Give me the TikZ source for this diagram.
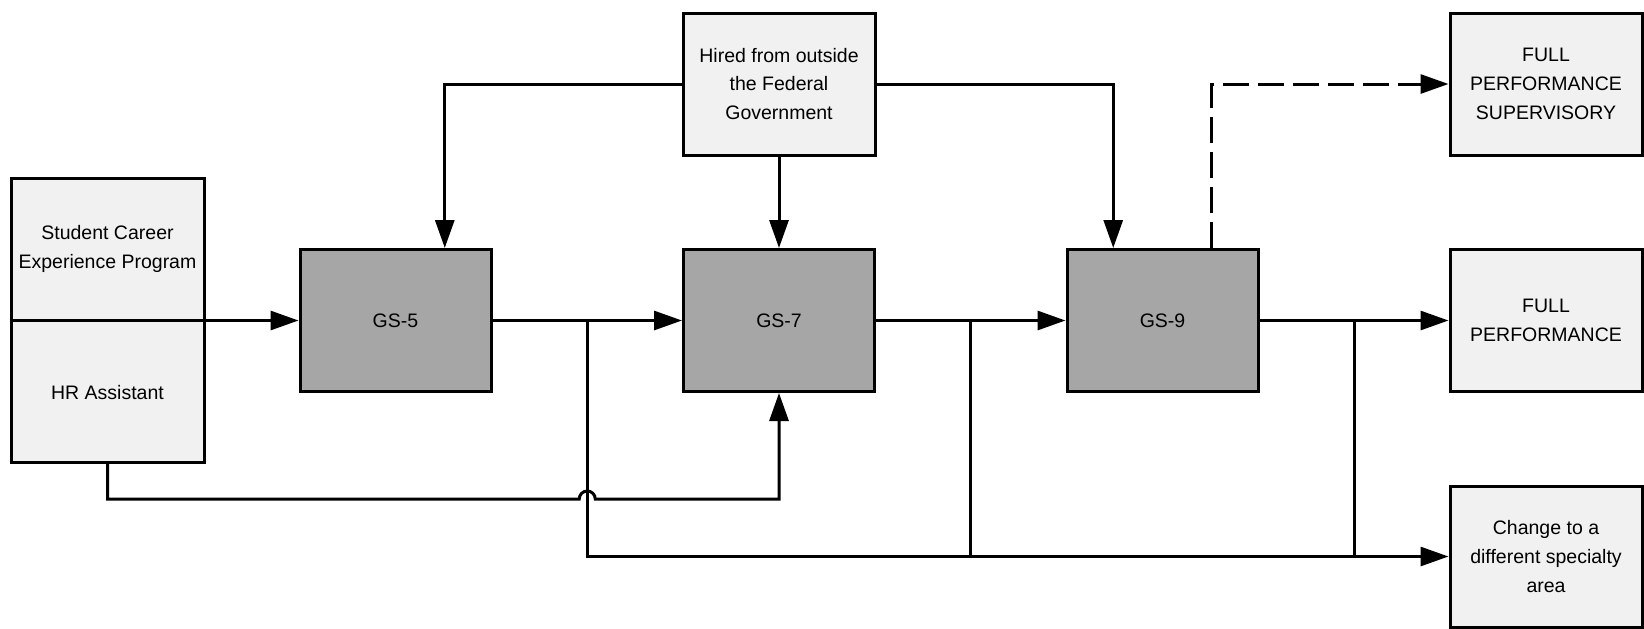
\documentclass[tikz,border=0pt]{standalone}
\usepackage{fontspec}
\setmainfont{Liberation Sans}
\usetikzlibrary{arrows.meta,calc}
\definecolor{lightbox}{HTML}{F1F1F1}
\definecolor{darkbox}{HTML}{A6A6A6}
\tikzset{
  box/.style={draw=black, line width=1.5pt, fill=lightbox, inner sep=0pt, minimum width=96pt, minimum height=71pt,
    font=\fontsize{9.75}{14.4}\selectfont, align=center},
  gsbox/.style={box, fill=darkbox, minimum width=95.5pt},
  txt/.style={font=\fontsize{9.75}{14.4}\selectfont, align=center, inner sep=0pt},
  conn/.style={line width=1.5pt, line join=miter},
  arr/.style={conn, -{Triangle[length=14pt,width=9.5pt]}},
  dashconn/.style={arr, dash pattern=on 13pt off 4.5pt}
}
\begin{document}
\begin{tikzpicture}[x=0.5pt,y=-0.5pt]
\useasboundingbox (0,0) rectangle (1644,628);
% boxes
\node[box, minimum width=96.5pt, minimum height=142pt] (left) at (107.5,320.5) {};
\draw[conn] (left.west) -- (left.east);
\node[gsbox] (gs5) at (395.5,320.5) {GS-5};
\node[gsbox] (gs7) at (779,320.5) {GS-7};
\node[gsbox] (gs9) at (1162.5,320.5) {GS-9};
\node[box] (hired) at (779,84) {Hired from outside\\the Federal\\Government};
\node[box] (fps) at (1546,84) {FULL\\PERFORMANCE\\SUPERVISORY};
\node[box] (fp) at (1546,320.5) {FULL\\PERFORMANCE};
\node[box, minimum height=70.5pt] (chg) at (1546,556.5) {Change to a\\different specialty\\area};
% texts of the split box
\node[txt] (tsc) at ($(left.north)!0.25!(left.south)$) {Student Career\\Experience Program};
\node[txt] (thr) at ($(left.north)!0.75!(left.south)$) {HR Assistant};
% coordinates
\coordinate (b1) at ($(gs5.east)!0.5!(gs7.west)$);
\coordinate (b2) at ($(gs7.east)!0.5!(gs9.west)$);
\coordinate (b3) at ($(gs9.east)!0.5!(fp.west)$);
\coordinate (h5) at ($(gs5.north west)!0.754!(gs5.north east)$);
\coordinate (h9) at ($(gs9.north west)!0.246!(gs9.north east)$);
\coordinate (d9) at ($(gs9.north west)!0.754!(gs9.north east)$);
\coordinate (hr1) at ($(left.south)+(0,35)$);
\coordinate (jmp) at (b1 |- hr1);
% main flow
\draw[arr] (left.east) -- (gs5.west);
\draw[arr] (gs5.east) -- (gs7.west);
\draw[arr] (gs7.east) -- (gs9.west);
\draw[arr] (gs9.east) -- (fp.west);
% hired
\draw[arr] (hired.west) -| (h5);
\draw[arr] (hired.south) -- (gs7.north);
\draw[arr] (hired.east) -| (h9);
% dashed to supervisory
\draw[dashconn] (d9) |- (fps.west);
% HR assistant to GS-7
\draw[arr] (left.south) -- (hr1) -- ([xshift=-4pt]jmp) arc[start angle=180,end angle=0,radius=4pt] -- (gs7.south |- hr1) -- (gs7.south);
% change specialty
\draw[arr] (b1) |- (chg.west);
\draw[conn] (b2) -- (b2 |- chg.west);
\draw[conn] (b3) -- (b3 |- chg.west);
\end{tikzpicture}
\end{document}
